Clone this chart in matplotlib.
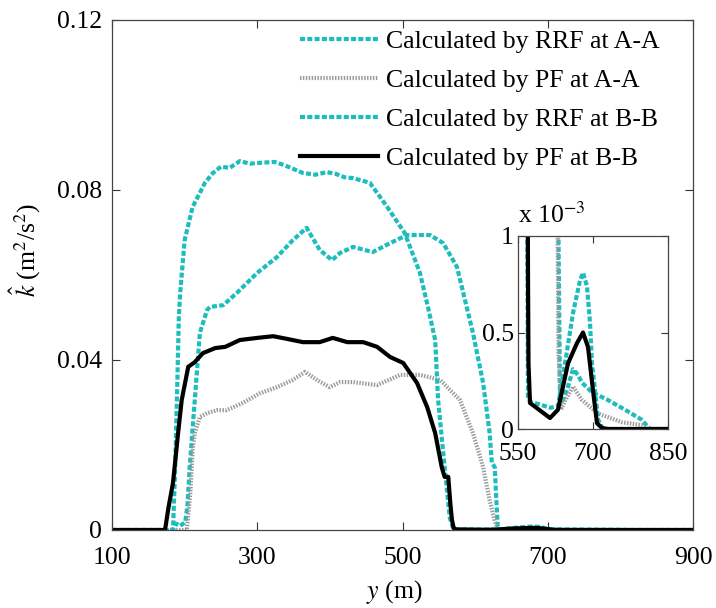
import matplotlib
matplotlib.use("Agg")
import matplotlib.pyplot as plt
import numpy as np

plt.rcParams['font.family'] = ['Liberation Serif', 'DejaVu Serif']
plt.rcParams['mathtext.fontset'] = 'stix'

# ---------------- data ----------------
# Calculated by RRF at A-A (cyan, lower)
rrf_aa_x = [100, 184, 188, 194, 198, 201, 204, 207, 214, 221, 231, 235, 253, 272, 300, 327, 349, 368, 386,
            403, 414, 432, 459, 483, 506, 538, 556, 575, 597, 611, 620, 623, 627, 631, 634, 640, 650, 660,
            670, 678, 698, 730, 764, 798, 810, 815, 900]
rrf_aa_y = [0, 0, 0.0015, 0.001, 0.0015, 0.002, 0.006, 0.0148, 0.0306, 0.0464, 0.0518, 0.0525, 0.0529,
            0.0558, 0.0605, 0.0642, 0.0682, 0.0711, 0.0659, 0.0635, 0.0652, 0.0666, 0.0654, 0.0675, 0.0694,
            0.0694, 0.0675, 0.0619, 0.0464, 0.0346, 0.0228, 0.0158, 0.0148, 0.0010, 0.00016, 0.00015,
            0.00022, 0.00031, 0.00028, 0.00024, 0.00019, 0.00015, 0.00010, 0.000047, 0.00001, 0, 0]

# Calculated by PF at A-A (grey)
pf_aa_x = [100, 203, 208, 211, 214, 221, 231, 245, 258, 280, 304, 327, 349, 366, 383, 400, 414, 432, 465,
           497, 524, 552, 579, 597, 611, 620, 627, 631, 636, 645, 660, 678, 710, 758, 798, 810, 900]
pf_aa_y = [0, 0, 0.009, 0.0188, 0.0228, 0.0266, 0.0275, 0.0282, 0.0282, 0.0299, 0.0322, 0.0336, 0.0353,
           0.0372, 0.0352, 0.0336, 0.0348, 0.0348, 0.0341, 0.0365, 0.0365, 0.0353, 0.0306, 0.0228, 0.0148,
           0.0070, 0.0020, 0.0004, 0.00010, 0.00015, 0.00022, 0.00015, 0.00008, 0.000035, 0.00002, 0, 0]

# Calculated by RRF at B-B (cyan, upper)
rrf_bb_x = [100, 184, 187, 190, 192, 194, 200, 211, 228, 239, 250, 262, 276, 290, 304, 324, 338, 363, 380,
            396, 408, 420, 432, 455, 479, 503, 524, 535, 545, 549, 558, 565, 570, 575, 590, 615, 630, 644,
            660, 674, 680, 688, 694, 698, 704, 710, 720, 900]
rrf_bb_y = [0, 0, 0.015, 0.035, 0.05, 0.056, 0.0682, 0.076, 0.0817, 0.084, 0.0855, 0.0852, 0.0868,
            0.0862, 0.0864, 0.0866, 0.0858, 0.084, 0.0836, 0.0842, 0.0838, 0.0830, 0.0828, 0.0817, 0.076,
            0.0699, 0.0605, 0.0525, 0.0447, 0.0306, 0.0148, 0.0030, 0.00016, 0.00014, 0.00013, 0.00011,
            0.00012, 0.00034, 0.00060, 0.00077, 0.00081, 0.00074, 0.00055, 0.00034, 0.00020, 0.00005, 0, 0]

# Calculated by PF at B-B (black)
pf_bb_x = [100, 173, 178, 184, 191, 196, 205, 214, 225, 242, 256, 276, 300, 322, 340, 363, 386, 404, 424,
           446, 465, 483, 501, 520, 534, 545, 554, 558, 563, 566, 568, 570, 571, 574, 614, 630, 650, 668,
           680, 690, 700, 708, 718, 730, 900]
pf_bb_y = [0, 0, 0.0055, 0.0111, 0.0228, 0.0306, 0.0384, 0.0395, 0.0416, 0.0428, 0.0431, 0.0447, 0.0452,
           0.0456, 0.0450, 0.0442, 0.0442, 0.0452, 0.0442, 0.0442, 0.0431, 0.0407, 0.0393, 0.0346, 0.0289,
           0.0228, 0.0148, 0.0125, 0.0125, 0.0060, 0.0025, 0.0008, 0.00034, 0.000135, 0.000057, 0.00010,
           0.00034, 0.000445, 0.00050, 0.000425, 0.00020, 0.00003, 0.000005, 0, 0]

labels = ['Calculated by RRF at A-A', 'Calculated by PF at A-A',
          'Calculated by RRF at B-B', 'Calculated by PF at B-B']

main_xticks = [100, 300, 500, 700, 900]
main_yticks = [0, 0.04, 0.08, 0.12]
main_yticklabels = ['0', '0.04', '0.08', '0.12']
inset_xticks = [550, 700, 850]
inset_yticks = [0, 0.5, 1]
inset_yticklabels = ['0', '0.5', '1']

# ---------------- styles ----------------
CYAN = '#1DBDBD'
GREY = '#9A9A9A'
styles = [
    dict(color=CYAN, lw=3.0, linestyle=(0, (1.2, 0.55)), dash_capstyle='butt'),
    dict(color=GREY, lw=3.0, linestyle=(0, (0.35, 0.35)), dash_capstyle='butt'),
    dict(color=CYAN, lw=3.0, linestyle=(0, (1.2, 0.55)), dash_capstyle='butt'),
    dict(color='black', lw=3.0, linestyle='-'),
]
series = [(rrf_aa_x, rrf_aa_y), (pf_aa_x, pf_aa_y), (rrf_bb_x, rrf_bb_y), (pf_bb_x, pf_bb_y)]

FS = 18.5
fig = plt.figure(figsize=(7.16, 6.08), dpi=100)
ax = fig.add_axes([112/716, 1-530/608, 581/716, 510/608])

handles = []
for (xs, ys), st, lab in zip(series, styles, labels):
    h, = ax.plot(xs, ys, label=lab, **st)
    handles.append(h)

ax.set_xlim(100, 900)
ax.set_ylim(0, 0.12)
ax.set_xticks(main_xticks)
ax.set_yticks(main_yticks)
ax.set_yticklabels(main_yticklabels)
ax.tick_params(direction='in', length=6, width=0.8, top=True, right=True,
               labelsize=FS, colors='#333333', labelcolor='black')
ax.tick_params(axis='x', pad=12)
ax.tick_params(axis='y', pad=7)
for s in ax.spines.values():
    s.set_color('#444444')
    s.set_linewidth(0.9)

ax.set_xlabel(r'$y$ (m)', fontsize=FS)
ax.xaxis.set_label_coords(0.485, -0.095)
ax.set_ylabel(r'$\hat{k}$ (m$^2$/s$^2$)', fontsize=FS)
ax.yaxis.set_label_coords(-0.118, 0.55)

leg = ax.legend(handles=handles, loc='upper left', bbox_to_anchor=(300/716, 1-30/608),
                bbox_transform=fig.transFigure, frameon=False, fontsize=FS,
                handlelength=3.05, handletextpad=0.3, labelspacing=0.62, borderpad=0,
                borderaxespad=0)

# ---------------- inset ----------------
axi = fig.add_axes([518/716, 1-429/608, 150/716, 193/608])
for (xs, ys), st in zip(series, styles):
    axi.plot(xs, np.array(ys) * 1e3, **st)
axi.set_xlim(550, 850)
axi.set_ylim(0, 1)
axi.set_xticks(inset_xticks)
axi.set_yticks(inset_yticks)
axi.set_yticklabels(inset_yticklabels)
axi.tick_params(direction='in', length=5, width=0.8, top=True, right=True,
                labelsize=FS, colors='#333333', labelcolor='black')
axi.tick_params(axis='x', pad=10)
axi.tick_params(axis='y', pad=3)
for s in axi.spines.values():
    s.set_color('#444444')
    s.set_linewidth(0.9)
axi.text(0.0, 1.07, r'x 10$^{\mathrm{-3}}$', transform=axi.transAxes, fontsize=FS,
         ha='left', va='baseline')

fig.savefig('out.png', dpi=100)
